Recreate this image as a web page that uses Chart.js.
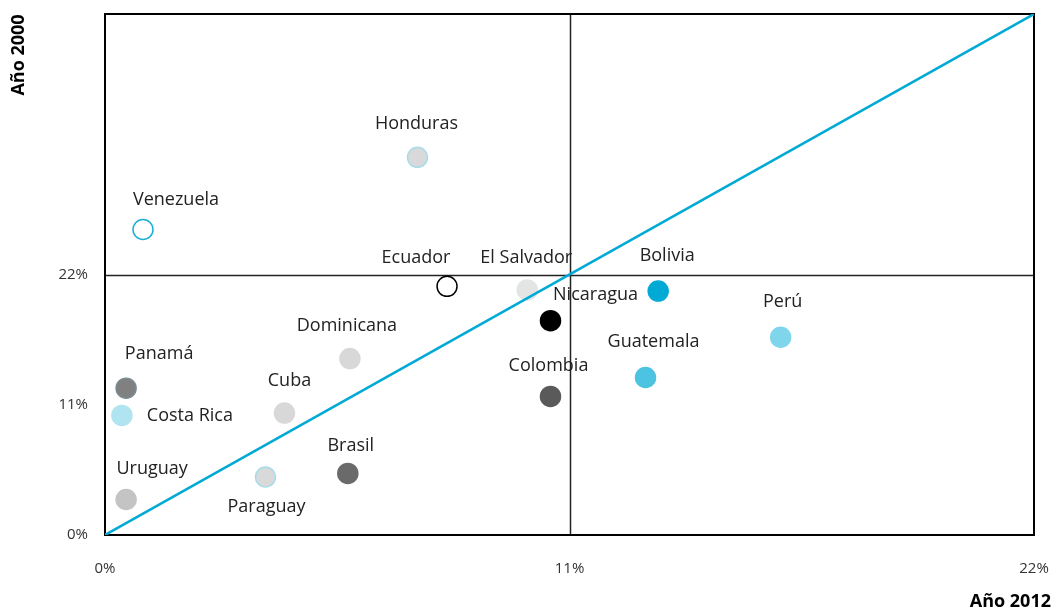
<!DOCTYPE html>
<html>
<head>
<meta charset="utf-8">
<style>
  html, body { margin: 0; padding: 0; background: #fff; }
  #wrap { width: 1056px; height: 612px; }
</style>
</head>
<body>
<div id="wrap"><canvas id="chart" width="1056" height="612"></canvas></div>
<script src="https://cdn.jsdelivr.net/npm/chart.js"></script>
<script>
// growth by country, 2012 (x) against 2000 (y), in %
const countries = ['Venezuela', 'Honduras', 'Ecuador', 'El Salvador', 'Nicaragua', 'Bolivia', 'Perú', 'Guatemala',
  'Colombia', 'Dominicana', 'Panamá', 'Costa Rica', 'Cuba', 'Brasil', 'Paraguay', 'Uruguay'];
const year2012 = [0.9, 7.4, 8.1, 10.0, 10.55, 13.1, 16.0, 12.8, 10.55, 5.8, 0.5, 0.4, 4.25, 5.75, 3.8, 0.5];
const year2000 = [25.8, 31.9, 21.0, 20.7, 18.1, 20.6, 16.7, 13.3, 11.7, 14.9, 12.4, 10.1, 10.3, 5.2, 4.9, 3.0];

const xTicks = [0, 11, 22];
const yTicks = [0, 11, 22];
const tickLabels = ['0%', '11%', '22%'];
const refLine = [{ x: 0, y: 0 }, { x: 22, y: 44 }];

const fills = ['#ffffff', '#d9d9d9', '#ffffff', '#e3e5e5', '#000000', '#00aad4', '#7fd6ec', '#4cc3e0',
  '#5a5a5a', '#d8d8d8', '#808080', '#b0e4f0', '#d8d8d8', '#6a6a6a', '#d9d9d9', '#c4c4c4'];
const strokes = ['#1ab0d8', '#a8dcea', '#000000', '#e3e5e5', '#000000', '#00aad4', '#7fd6ec', '#4cc3e0',
  '#5a5a5a', '#d8d8d8', '#7a8a90', '#b0e4f0', '#d8d8d8', '#6a6a6a', '#a8dcea', '#c4c4c4'];
// label offset from the dot centre, in px
const labelShift = [[33, -30], [-1, -33], [-31, -28], [-1, -32], [45, -26], [9, -35], [2, -35], [8, -36],
  [-2, -31], [-3, -33], [33, -34], [68, 0], [5, -32], [3, -28], [1, 30], [26, -31]];

const FONT = '"Open Sans", Roboto, sans-serif';

// drop the auto padding chart.js adds for edge tick labels
const noEdgePad = (s) => {
  s.paddingLeft = 0; s.paddingRight = 0; s.paddingTop = 0; s.paddingBottom = 0;
};

const frame = {
  id: 'frame',
  beforeDatasetsDraw(chart) {
    const { ctx, chartArea: a, scales: { x, y } } = chart;
    ctx.save();
    ctx.strokeStyle = '#222';
    ctx.lineWidth = 1.5;
    const cx = Math.round(x.getPixelForValue(11)) + 0.5;
    const cy = Math.round(y.getPixelForValue(22)) + 0.5;
    ctx.beginPath();
    ctx.moveTo(cx, a.top); ctx.lineTo(cx, a.bottom);
    ctx.moveTo(a.left, cy); ctx.lineTo(a.right, cy);
    ctx.stroke();
    ctx.strokeStyle = '#000';
    ctx.lineWidth = 2;
    ctx.strokeRect(a.left, a.top, a.right - a.left, a.bottom - a.top);
    ctx.restore();
  },
  afterDraw(chart) {
    const { ctx } = chart;
    ctx.save();
    ctx.fillStyle = '#000';
    ctx.font = 'bold 18px ' + FONT;
    ctx.textAlign = 'right';
    ctx.textBaseline = 'middle';
    ctx.fillText('Año 2012', 1051, 602);
    ctx.translate(19, 55);
    ctx.rotate(-Math.PI / 2);
    ctx.textAlign = 'center';
    ctx.fillText('Año 2000', 0, 0);
    ctx.restore();
  }
};

const pointLabels = {
  id: 'pointLabels',
  afterDatasetsDraw(chart) {
    const { ctx } = chart;
    const meta = chart.getDatasetMeta(0);
    ctx.save();
    ctx.fillStyle = '#222';
    ctx.font = '18px ' + FONT;
    ctx.textAlign = 'center';
    ctx.textBaseline = 'middle';
    meta.data.forEach((pt, i) => {
      ctx.fillText(countries[i], pt.x + labelShift[i][0], pt.y + labelShift[i][1]);
    });
    ctx.restore();
  }
};

new Chart(document.getElementById('chart'), {
  type: 'scatter',
  data: {
    datasets: [
      {
        data: countries.map((c, i) => ({ x: year2012[i], y: year2000[i] })),
        backgroundColor: fills,
        borderColor: strokes,
        borderWidth: 1.5,
        pointRadius: 10,
        order: 2
      },
      {
        type: 'line',
        data: refLine,
        borderColor: '#00aad4',
        borderWidth: 2.5,
        pointRadius: 0,
        order: 1
      }
    ]
  },
  plugins: [frame, pointLabels],
  options: {
    responsive: false,
    animation: false,
    layout: { padding: { top: 14, right: 22, left: 0, bottom: 0 } },
    plugins: { legend: { display: false }, tooltip: { enabled: false } },
    scales: {
      x: {
        type: 'linear', min: 0, max: 22,
        grid: { display: false },
        border: { display: false },
        afterBuildTicks: (s) => { s.ticks = xTicks.map((v) => ({ value: v })); },
        afterFit: (s) => { s.height = 77; noEdgePad(s); },
        ticks: {
          padding: 17,
          color: '#333',
          font: { family: FONT, size: 15 },
          callback: (v) => tickLabels[xTicks.indexOf(v)]
        }
      },
      y: {
        type: 'linear', min: 0, max: 44,
        grid: { display: false },
        border: { display: false },
        afterBuildTicks: (s) => { s.ticks = yTicks.map((v) => ({ value: v })); },
        afterFit: (s) => { s.width = 105; noEdgePad(s); },
        ticks: {
          padding: 9,
          color: '#333',
          font: { family: FONT, size: 15 },
          callback: (v) => tickLabels[yTicks.indexOf(v)]
        }
      }
    }
  }
});
</script>
</body>
</html>
